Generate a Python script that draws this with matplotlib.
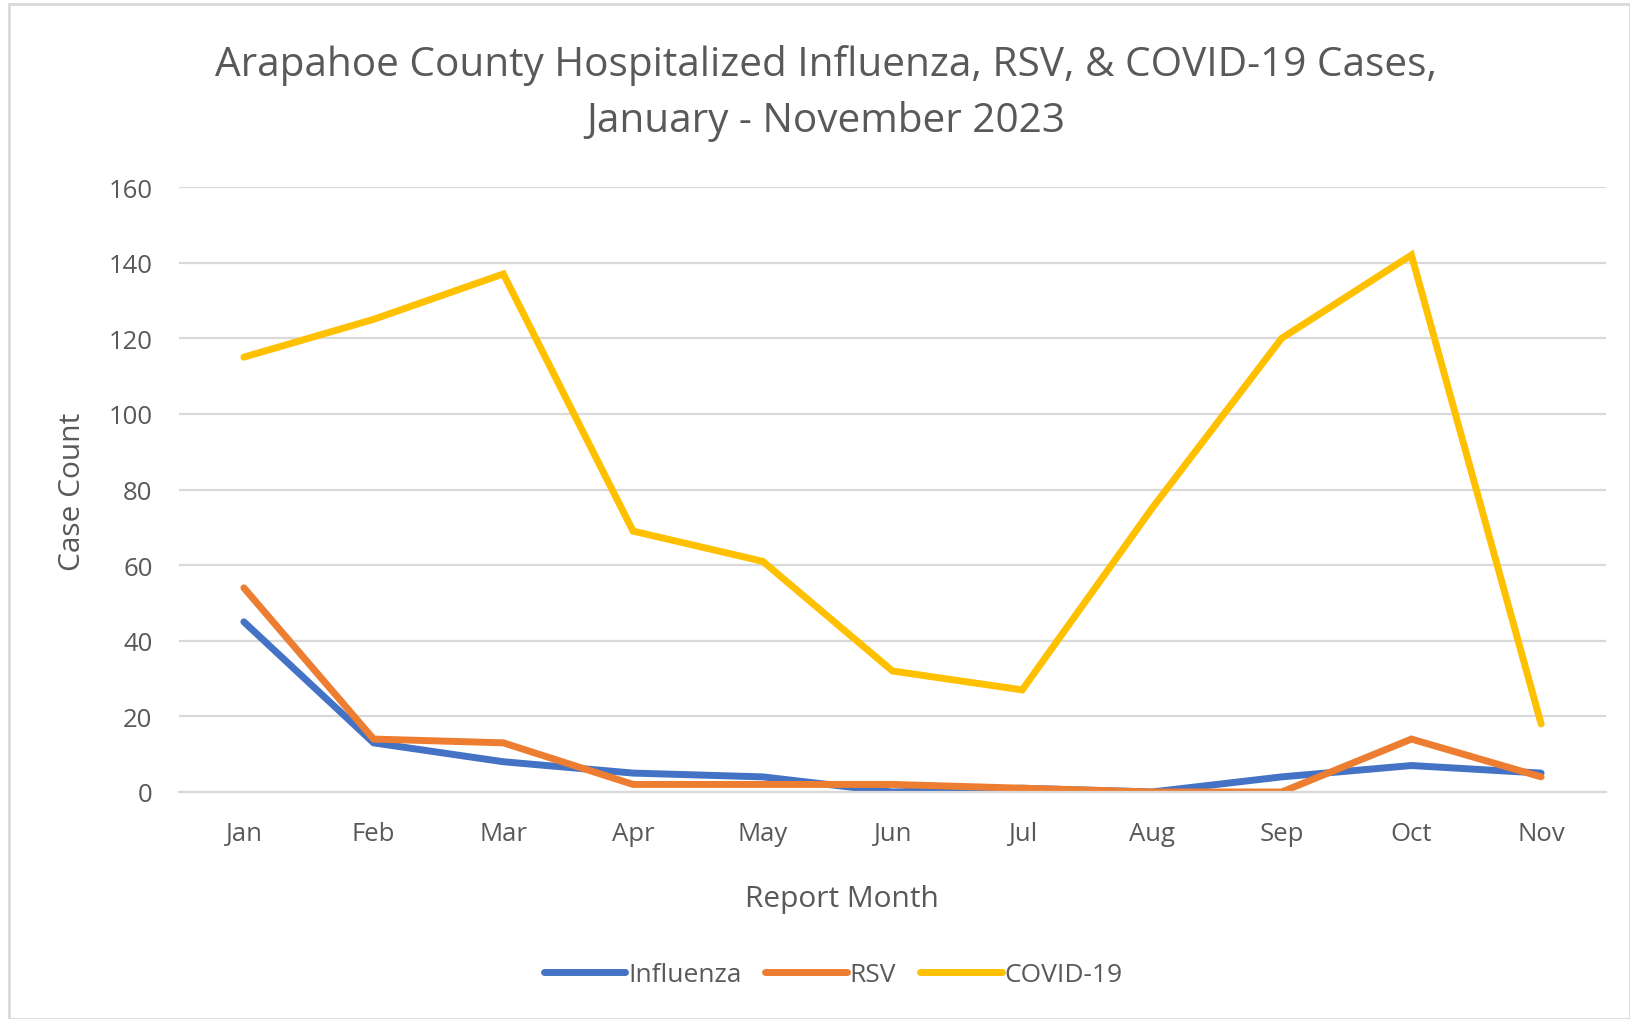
import matplotlib.pyplot as plt
from matplotlib.patches import Rectangle

plt.rcParams['font.family'] = ['Open Sans', 'DejaVu Sans']

months = ['Jan', 'Feb', 'Mar', 'Apr', 'May', 'Jun', 'Jul', 'Aug', 'Sep', 'Oct', 'Nov']
influenza = [45, 13, 8, 5, 4, 0, 1, 0, 4, 7, 5]
rsv = [54, 14, 13, 2, 2, 2, 1, 0, 0, 14, 4]
covid = [115, 125, 137, 69, 61, 32, 27, 75, 120, 142, 18]

series_names = ['Influenza', 'RSV', 'COVID-19']
colors = ['#4472C4', '#ED7D31', '#FFC000']
text_color = '#595959'

fig = plt.figure(figsize=(16.3, 10.2), dpi=100)
ax = fig.add_axes([179 / 1630, 1 - 793 / 1020, 1427 / 1630, 605 / 1020])

x = range(len(months))
for vals, name, c in zip([influenza, rsv, covid], series_names, colors):
    ax.plot(x, vals, color=c, lw=5, label=name, solid_capstyle='round',
            solid_joinstyle='miter')

ax.set_xlim(-0.5, len(months) - 0.5)
ax.set_ylim(0, 160)
ax.set_yticks(range(0, 161, 20))
ax.set_xticks(list(x))
ax.set_xticklabels(months)
ax.grid(axis='y', color='#D9D9D9', lw=1.6)
ax.set_axisbelow(True)
for s in ['top', 'right', 'left']:
    ax.spines[s].set_visible(False)
ax.spines['bottom'].set_color('#D9D9D9')
ax.spines['bottom'].set_linewidth(1.6)
ax.tick_params(length=0, labelsize=18.5, labelcolor=text_color)
ax.tick_params(axis='x', pad=21)
ax.tick_params(axis='y', pad=19)

fig.text(73 / 1630, 1 - 492 / 1020, 'Case Count', fontsize=21.5, color=text_color,
         ha='center', va='center', rotation=90)
fig.text(842 / 1630, 1 - 900 / 1020, 'Report Month', fontsize=21.5, color=text_color,
         ha='center', va='center')

fig.text(826 / 1630, 1 - 66 / 1020, 'Arapahoe County Hospitalized Influenza, RSV, & COVID-19 Cases,',
         fontsize=29.2, color=text_color, ha='center', va='center')
fig.text(826 / 1630, 1 - 122 / 1020, 'January - November 2023',
         fontsize=29.2, color=text_color, ha='center', va='center')

fig.legend(loc='center', bbox_to_anchor=(833 / 1630, 1 - 976 / 1020), ncol=3,
           frameon=False, fontsize=19, labelcolor=text_color, handlelength=3.1,
           handletextpad=0.1, columnspacing=0.9)

fig.patches.append(Rectangle((9 / 1630, 0), 1 - 9 / 1630, 1 - 5 / 1020,
                             transform=fig.transFigure, fill=False,
                             edgecolor='#D9D9D9', lw=2))

fig.savefig('out.png', dpi=100)
